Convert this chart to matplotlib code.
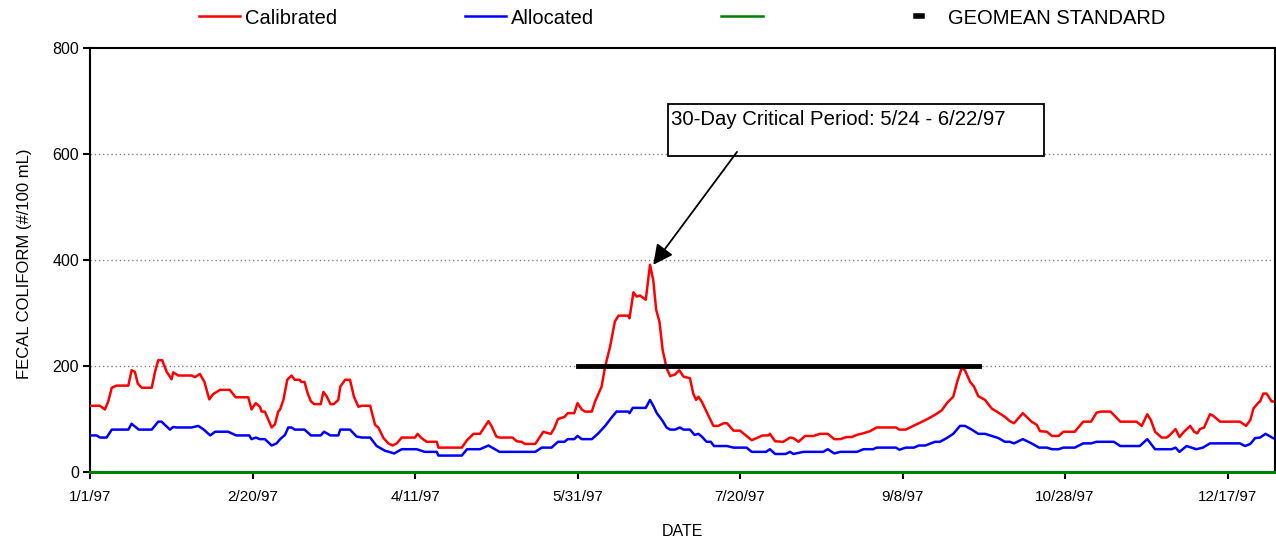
import matplotlib.pyplot as plt
from matplotlib.lines import Line2D
from matplotlib.patches import Rectangle

plt.rcParams['font.family'] = ['Liberation Sans', 'DejaVu Sans']

# days since 1/1/97 and fecal coliform (#/100 mL)
cal_days = [0, 3, 4.6, 5.6, 6.7, 8.2, 11.8, 12.8, 13.8, 14.7, 15.9, 19, 20, 21, 22.2, 23.6,
            25.1, 25.6, 27.2, 31.3, 32.3, 33.8, 35.2, 36.7, 37.9, 40, 43, 44.8, 48.7, 49.7,
            51, 52.3, 52.8, 53.8, 55.9, 56.9, 57.9, 58.5, 59.5, 60.7, 62, 63, 64.5, 65, 66,
            67, 68, 69, 71, 71.8, 72.8, 74, 75, 76.4, 77, 78.5, 80, 81.2, 82.6, 83.6, 86.2,
            87.7, 88.7, 90.3, 91.8, 93.1, 94.4, 95.9, 100, 100.8, 102, 103.6, 106.7, 107.2,
            114.4, 116, 118, 120, 122.6, 123.6, 125, 126, 130, 131.3, 132.8, 133.8, 137,
            138.5, 139.5, 140.5, 141.8, 142.8, 144, 146, 147, 149, 150, 151.3, 152.3, 154.4,
            155.4, 157.4, 158.5, 160, 161.5, 162.6, 165.6, 166, 167.2, 168.2, 169.2, 171,
            172.3, 173.3, 174.2, 175.2, 176.2, 177.4, 178.5, 180, 181.3, 182.6, 184.6, 185.6,
            186.5, 187.2, 188.2, 189.7, 191.8, 193.3, 195, 196, 198, 200, 201, 203.6, 205.1,
            207, 208.7, 209.2, 210.8, 213.3, 215.4, 216.4, 218, 220, 222.6, 224.6, 227, 229,
            230.8, 232.8, 234.4, 235.9, 237.9, 240, 242, 248, 249, 251, 253.3, 255.4, 258,
            260, 262, 263.8, 265.6, 266.8, 268.2, 269.2, 270.8, 272, 273.3, 275.4, 277.4,
            279.5, 281.5, 283, 284.3, 285.6, 287, 288.2, 289.7, 291.3, 292.3, 294.4, 296, 298,
            299.5, 303, 305.6, 308, 309.7, 311, 314, 317, 322, 323.6, 325.3, 326.4, 327.7,
            329.7, 331.3, 332.3, 334, 335.2, 336.6, 338.5, 339.7, 340.7, 341.5, 342.8, 344.6,
            345.6, 347.7, 353.8, 355.7, 357, 358, 359.5, 360, 361, 362, 363.6, 364]
cal_vals = [125, 125, 118, 133, 159, 163, 163, 192, 189, 167, 159, 159, 189, 211, 211, 189,
            175, 188, 182, 182, 179, 185, 170, 137, 147, 155, 155, 141, 141, 118,
            130, 123, 114, 114, 84, 90, 114, 118, 136, 174, 182, 174, 174, 170, 170,
            148, 133, 128, 128, 151, 143, 128, 128, 136, 161, 174, 174, 142, 123, 125, 125,
            89, 84, 64, 54, 50, 54, 65, 65, 72, 64, 57, 57, 46,
            46, 60, 72, 72, 96, 86, 67, 65, 65, 58, 57, 53, 53,
            67, 76, 74, 72, 82, 100, 104, 111, 111, 130, 118, 114, 114,
            133, 161, 199, 236, 284, 295, 295, 290, 339, 331, 333, 325,
            391, 362, 306, 284, 230, 196, 181, 184, 192, 180, 177, 148,
            136, 142, 133, 114, 87, 87, 92, 92, 78, 78, 73, 60, 64,
            69, 69, 72, 58, 57, 65, 64, 57, 68, 68, 72, 72, 62,
            62, 66, 66, 70, 73, 77, 84, 84, 80, 80, 87, 93, 101,
            108, 116, 131, 142, 170, 196, 192, 170, 161, 143, 136, 120,
            112, 104, 96, 92, 101, 111, 104, 95, 89, 77, 76, 68, 68,
            76, 76, 95, 95, 112, 114, 114, 95, 95, 87, 109, 98, 76,
            65, 65, 70, 81, 66, 76, 87, 76, 73, 81, 84, 109,
            106, 95, 95, 87, 98, 120, 131, 133, 148, 148, 133, 133]

alloc_days = [0, 2, 3.1, 5.1, 6.7, 11.8, 12.8, 14, 15, 19, 21, 22, 24.6, 25.6, 26.7, 31.3,
              33.3, 35, 37, 38.5, 42.5, 45, 49, 49.7, 51, 52.3, 53.8, 55.9, 57.4, 58.5, 60,
              61, 62, 63, 66, 68, 71, 72, 74, 76.4, 77, 80, 82, 83.6, 86.2, 88.2, 90.8, 92,
              93.6, 95.9, 100.5, 103, 106.7, 107.2, 114.4, 116, 120, 122.6, 126, 137, 139,
              142, 144, 146, 147, 149, 150, 151.3, 154.4, 156.4, 158.5, 160.5, 162, 165.6,
              166, 167, 171, 172.3, 173.3, 174.4, 176, 177.4, 178.5, 180, 181.5, 182.6,
              184.6, 186, 187.2, 188.2, 189.7, 191, 192, 196, 198, 202, 203.6, 208, 209.2,
              210.8, 214, 215.4, 216.4, 219.5, 225.6, 227, 229, 230.8, 236, 238, 241, 242,
              248, 249, 251, 253.5, 255, 257, 260, 261.5, 263.6, 265.6, 267.7, 269.2, 271.3,
              273.3, 275.4, 277.4, 279.5, 281.5, 283, 284.3, 287, 289.7, 292, 294.4, 296,
              298, 299.5, 303, 305.6, 308, 309.7, 315, 317, 323, 325.3, 327.7, 332.8, 334,
              335.2, 337.4, 340.4, 342.4, 344.6, 353.8, 355.4, 357, 358.5, 360, 361.7, 364]
alloc_vals = [69, 69, 65, 65, 80, 80, 91, 85, 80, 80, 95, 95, 80, 85, 84, 84,
              87, 80, 69, 76, 76, 69, 69, 62, 65, 62, 62, 50, 54, 62, 70,
              84, 84, 80, 80, 69, 69, 76, 69, 69, 80, 80, 67, 65, 65, 49, 40, 38,
              35, 43, 43, 38, 38, 31, 31, 43, 43, 50, 38, 38, 46,
              46, 57, 57, 62, 62, 68, 62, 62, 73, 87, 103, 114, 114,
              111, 121, 121, 136, 125, 111, 98, 84, 80, 80, 84, 80,
              80, 70, 72, 67, 57, 57, 49, 49, 46, 46, 38, 38, 43,
              34, 34, 38, 34, 38, 38, 43, 35, 38, 38, 43, 43, 46,
              46, 42, 46, 46, 50, 50, 57, 57, 64, 72, 87, 87, 80,
              72, 72, 68, 64, 57, 57, 54, 62, 54, 46, 46, 43,
              43, 46, 46, 54, 54, 57, 57, 49, 49, 62, 43, 43, 46,
              38, 49, 43, 46, 54, 54, 49, 53, 64, 65, 72, 64]

zero_days = [0, 364.6]
zero_vals = [0, 0]

standard_days = [150, 273.5]
standard_vals = [200, 200]

peak_day = 173.3
peak_val = 391

tick_days = [0, 50, 100, 150, 200, 250, 300, 350]
tick_labels = ['1/1/97', '2/20/97', '4/11/97', '5/31/97', '7/20/97', '9/8/97', '10/28/97', '12/17/97']


def main():
    fig = plt.figure(figsize=(12.76, 5.42), dpi=100)
    ax = fig.add_axes([90 / 1276, 70 / 542, 1185 / 1276, 424 / 542])

    ax.plot(cal_days, cal_vals, color='#ff0000', lw=1.8, zorder=3)
    ax.plot(alloc_days, alloc_vals, color='#0000ff', lw=1.8, zorder=3)
    ax.plot(zero_days, zero_vals, color='#008000', lw=2.2, zorder=4, clip_on=False)
    ax.plot(standard_days, standard_vals, color='black', lw=3.5, zorder=5)

    ax.set_xlim(0, 364.6)
    ax.set_ylim(0, 800)
    ax.set_yticks([0, 200, 400, 600, 800])
    ax.set_xticks(tick_days, tick_labels)
    ax.tick_params(direction='out', length=5, width=1.5, pad=8)
    ax.tick_params(axis='x', labelsize=11)
    ax.tick_params(axis='y', pad=3, labelsize=11.5)
    for s in ax.spines.values():
        s.set_linewidth(1.5)

    for v in [200, 400, 600]:
        ax.axhline(v, color='#808080', lw=1, ls=(0, (1, 2)), zorder=1)

    ax.set_xlabel('DATE', fontsize=11.5, labelpad=14)
    ax.set_ylabel('FECAL COLIFORM (#/100 mL)', fontsize=12)
    ax.yaxis.set_label_coords(-58 / 1185, 0.49)

    # annotation box + arrow
    ax.add_patch(Rectangle((0.4878, 0.745), 0.3172, 0.123, transform=ax.transAxes,
                           fill=True, facecolor='white', edgecolor='black', lw=1.3, zorder=6))
    ax.text(0.4903, 0.832, '30-Day Critical Period: 5/24 - 6/22/97', transform=ax.transAxes,
            fontsize=14.7, va='center', ha='left', zorder=7)
    ax.annotate('', xy=(peak_day, peak_val), xytext=(0.546, 0.755), textcoords='axes fraction',
                arrowprops=dict(arrowstyle='-|>', mutation_scale=30, color='black', lw=1.3,
                                shrinkA=0, shrinkB=0), zorder=7)

    # legend entries along the top
    entries = [
        (Line2D([], [], color='#ff0000', lw=1.8), 'Calibrated', 199, 2.05, 0.25),
        (Line2D([], [], color='#0000ff', lw=1.8), 'Allocated', 465, 2.05, 0.25),
        (Line2D([], [], color='#008000', lw=1.8), '', 721, 2.1, 0.25),
        (Line2D([], [], color='black', lw=4), 'GEOMEAN STANDARD', 916, 0.3, 1.3),
    ]
    for handle, label, xpix, hlen, pad in entries:
        fig.legend([handle], [label], loc='center left', bbox_to_anchor=(xpix / 1276, 1 - 18 / 542),
                   frameon=False, fontsize=14.5, handlelength=hlen, handletextpad=pad,
                   borderpad=0, borderaxespad=0)

    fig.savefig('out.png', dpi=100)


if __name__ == '__main__':
    main()
